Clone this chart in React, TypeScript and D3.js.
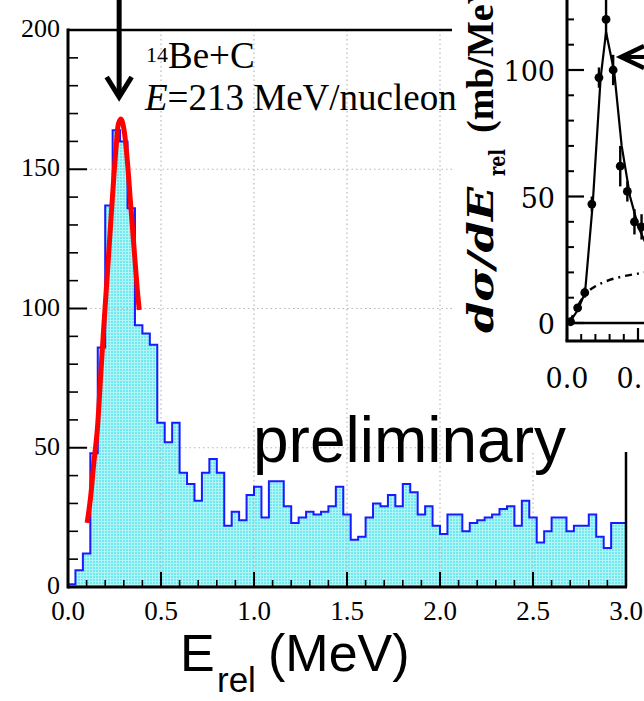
import React from "react";
import * as d3 from "d3";

const W = 644;
const H = 701;

// ---- main histogram data (bin width 0.04 MeV, 0..3 MeV) ----
const binWidth = 0.04;
const counts = [
  1, 6, 12, 48, 86, 137, 164, 160, 136, 94,
  91, 87, 59, 52, 59, 41, 37, 31, 41, 46,
  41, 22, 27, 24, 33, 36, 25, 38, 38, 29,
  23, 25, 27, 26, 27, 29, 36, 26, 17, 18,
  25, 30, 29, 33, 29, 37, 34, 26, 29, 22,
  19, 26, 26, 20, 23, 24, 25, 26, 28, 29,
  22, 31, 25, 16, 20, 25, 25, 20, 22, 22,
  26, 18, 14, 23, 23,
];

// red fit curve
const fitE = [0.103, 0.121, 0.138, 0.157, 0.174, 0.192, 0.21, 0.228, 0.246, 0.26, 0.272, 0.285, 0.299, 0.317, 0.335, 0.353, 0.371, 0.383];
const fitV = [23, 32, 44, 56, 74, 93, 111, 129, 147, 159, 166.5, 168, 165, 154.5, 139, 123.5, 108, 99.5];

const peakArrowE = 0.275;

const xTickValues = [0, 0.5, 1, 1.5, 2, 2.5, 3];
const xTickLabels = ["0.0", "0.5", "1.0", "1.5", "2.0", "2.5", "3.0"];
const yTickValues = [0, 50, 100, 150, 200];
const yTickLabels = ["0", "50", "100", "150", "200"];
const gridX = [0.5, 1, 1.5, 2, 2.5];
const gridY = [50, 100, 150];

// ---- inset data ----
const insetE = [0.025, 0.075, 0.125, 0.175, 0.225, 0.275, 0.325, 0.375, 0.425, 0.475, 0.525];
const insetV = [0.5, 6, 12, 47, 97, 120, 100, 62, 52, 40, 38];
const insetErr = [0.5, 1, 2, 3, 4, 8, 6, 8, 4, 5, 5];
const insetFitE = [0, 0.021, 0.075, 0.127, 0.181, 0.237, 0.275, 0.333, 0.385, 0.444, 0.502, 0.55];
const insetFitV = [0, 0.5, 5, 12, 47, 97, 115, 99, 70, 50, 38, 32];
const insetBgE = [0.02, 0.05, 0.1, 0.15, 0.2, 0.3, 0.4, 0.5, 0.55];
const insetBgV = [0.5, 4, 9, 12.5, 14.5, 17, 18.5, 19.5, 20];
const insetYTicks = [0, 50, 100];
const insetYLabels = ["0", "50", "100"];
const insetXTicks = [0, 0.5];
const insetXLabels = ["0.0", "0.5"];

const SERIF = "'Liberation Serif', 'Times New Roman', serif";
const SANS = "'Liberation Sans', Arial, sans-serif";

export default function App() {
  const x = d3.scaleLinear().domain([0, 3]).range([68, 626]);
  const y = d3.scaleLinear().domain([0, 200]).range([587, 30]);

  // histogram step path
  const pts: [number, number][] = [[x(0), y(0)]];
  counts.forEach((c, i) => {
    pts.push([x(i * binWidth), y(c)]);
    pts.push([x((i + 1) * binWidth), y(c)]);
  });
  pts.push([x(3), y(0)]);
  const stepLine = d3.line<[number, number]>().x((d) => d[0]).y((d) => d[1]);
  const histPath = stepLine(pts) as string;
  const fillPath = histPath + "Z";

  const fitLine = d3
    .line<number>()
    .x((_, i) => x(fitE[i]))
    .y((v) => y(v))
    .curve(d3.curveCatmullRom);
  const fitPath = fitLine(fitV) as string;

  const minorX = d3.range(0, 31).map((i) => i / 10).filter((v) => Math.round(v * 10) % 5 !== 0);
  const minorY = d3.range(0, 201, 10).filter((v) => v % 50 !== 0);

  // inset scales
  const ix = d3.scaleLinear().domain([0, 0.5]).range([567, 638]);
  const iy = d3.scaleLinear().domain([0, 100]).range([323, 70]);
  const insetLine = d3
    .line<number>()
    .x((_, i) => ix(insetFitE[i]))
    .y((v) => iy(v));
  const insetBgLine = d3
    .line<number>()
    .x((_, i) => ix(insetBgE[i]))
    .y((v) => iy(v))
    .curve(d3.curveMonotoneX);
  const insetMinorY = d3.range(0, 121, 10).filter((v) => v % 50 !== 0);
  const insetMinorX = d3.range(1, 6).map((i) => i / 10).filter((v) => v < 0.5);

  const ax = x(peakArrowE);

  return (
    <svg
      width={W}
      height={H}
      viewBox={`0 0 ${W} ${H}`}
      style={{ position: "absolute", left: 0, top: 0, background: "#fff" }}
    >
      <defs>
        <pattern id="dots" width={3} height={3} patternUnits="userSpaceOnUse">
          <rect x={0} y={0} width={3} height={3} fill="#b2f5f7" />
          <rect x={0} y={0} width={2} height={2} fill="#6fe9ef" />
        </pattern>
      </defs>
      <rect x={0} y={0} width={W} height={H} fill="#fff" />
      {/* histogram fill */}
      <path d={fillPath} fill="url(#dots)" stroke="none" />
      {/* grid */}
      {gridX.map((g) => (
        <line key={"gx" + g} x1={x(g)} x2={x(g)} y1={y(200)} y2={y(0)} stroke="#b8b8b8" strokeWidth={1.2} strokeDasharray="1.5,3" />
      ))}
      {gridY.map((g) => (
        <line key={"gy" + g} x1={x(0)} x2={x(3)} y1={y(g)} y2={y(g)} stroke="#b8b8b8" strokeWidth={1.2} strokeDasharray="1.5,3" />
      ))}
      {/* histogram outline */}
      <path d={histPath} fill="none" stroke="#1a1aff" strokeWidth={2} />
      {/* red fit */}
      <path d={fitPath} fill="none" stroke="#ff0000" strokeWidth={5} strokeLinejoin="round" />

      {/* axes */}
      <line x1={x(0)} x2={x(0)} y1={y(200) - 1.5} y2={y(0) + 1.5} stroke="#000" strokeWidth={3} />
      <line x1={x(0)} x2={x(3) + 1} y1={y(0)} y2={y(0)} stroke="#000" strokeWidth={3} />
      <line x1={x(0)} x2={452} y1={y(200)} y2={y(200)} stroke="#000" strokeWidth={2.5} />
      <line x1={x(3)} x2={x(3)} y1={452} y2={y(0)} stroke="#000" strokeWidth={2.5} />
      {xTickValues.map((v) => (
        <line key={"xt" + v} x1={x(v)} x2={x(v)} y1={y(0)} y2={y(0) - 15} stroke="#000" strokeWidth={2} />
      ))}
      {minorX.map((v) => (
        <line key={"xm" + v} x1={x(v)} x2={x(v)} y1={y(0)} y2={y(0) - 7} stroke="#000" strokeWidth={1.6} />
      ))}
      {yTickValues.map((v) => (
        <line key={"yt" + v} x1={x(0)} x2={x(0) + 19} y1={y(v)} y2={y(v)} stroke="#000" strokeWidth={2} />
      ))}
      {minorY.map((v) => (
        <line key={"ym" + v} x1={x(0)} x2={x(0) + 10} y1={y(v)} y2={y(v)} stroke="#000" strokeWidth={1.6} />
      ))}
      {xTickValues.map((v, i) => (
        <text key={"xl" + v} x={x(v)} y={620} textAnchor="middle" fontFamily={SERIF} fontSize={27} fill="#000">
          {xTickLabels[i]}
        </text>
      ))}
      {yTickValues.map((v, i) => (
        <text key={"yl" + v} x={60} y={y(v) + 7} textAnchor="end" fontFamily={SERIF} fontSize={26} fill="#000">
          {yTickLabels[i]}
        </text>
      ))}

      {/* arrow at peak */}
      <line x1={ax} x2={ax} y1={0} y2={96} stroke="#000" strokeWidth={5} />
      <polyline points={`${ax - 12.5},77 ${ax},97 ${ax + 12.5},77`} fill="none" stroke="#000" strokeWidth={5} strokeLinejoin="miter" />

      {/* ---------- inset ---------- */}
      <rect x={452} y={0} width={W - 452} height={452} fill="#fff" />
      <g>
        <path d={insetBgLine(insetBgV) as string} fill="none" stroke="#000" strokeWidth={2.4} strokeDasharray="7,5,2,5" />
        <path d={insetLine(insetFitV) as string} fill="none" stroke="#000" strokeWidth={2.2} />
        {insetE.map((e, i) => (
          <g key={"ip" + i}>
            <line x1={ix(e)} x2={ix(e)} y1={iy(insetV[i] - insetErr[i])} y2={iy(insetV[i] + insetErr[i])} stroke="#000" strokeWidth={2.4} />
            <circle cx={ix(e)} cy={iy(insetV[i])} r={4.4} fill="#000" />
          </g>
        ))}
        <line x1={567} x2={W} y1={iy(0)} y2={iy(0)} stroke="#000" strokeWidth={2.4} />
        <line x1={567} x2={567} y1={0} y2={341} stroke="#000" strokeWidth={3} />
        <line x1={565.5} x2={W} y1={341} y2={341} stroke="#000" strokeWidth={3} />
        {insetYTicks.map((v) => (
          <line key={"iyt" + v} x1={567} x2={584} y1={iy(v)} y2={iy(v)} stroke="#000" strokeWidth={2.2} />
        ))}
        {insetMinorY.map((v) => (
          <line key={"iym" + v} x1={567} x2={574} y1={iy(v)} y2={iy(v)} stroke="#000" strokeWidth={2} />
        ))}
        {insetMinorX.map((v) => (
          <line key={"ixm" + v} x1={ix(v)} x2={ix(v)} y1={341} y2={334} stroke="#000" strokeWidth={2} />
        ))}
        {insetXTicks.map((v) => (
          <line key={"ixt" + v} x1={ix(v)} x2={ix(v)} y1={341} y2={328} stroke="#000" strokeWidth={2.2} />
        ))}
        {insetYTicks.map((v, i) => (
          <text key={"iyl" + v} x={555} y={iy(v) + 11} textAnchor="end" fontFamily="'DejaVu Serif', serif" fontSize={27} fill="#000">
            {insetYLabels[i]}
          </text>
        ))}
        {insetXTicks.map((v, i) => (
          <text key={"ixl" + v} x={ix(v)} y={388} textAnchor="middle" fontFamily="'DejaVu Serif', serif" fontSize={27} fill="#000">
            {insetXLabels[i]}
          </text>
        ))}
        {/* inset arrow */}
        <line x1={621} x2={W} y1={57} y2={57} stroke="#000" strokeWidth={4} />
        <polyline points={`${W},46 621,57 ${W},68`} fill="none" stroke="#000" strokeWidth={4.5} />
        {/* inset y label */}
        <g transform="translate(493,333) rotate(-90)">
          <text x={0} y={0} fontFamily="'DejaVu Serif', serif" fontWeight="bold" fontStyle="italic" fontSize={36} textLength={146} lengthAdjust="spacingAndGlyphs" fill="#000">
            dσ/dE
          </text>
          <text x={157} y={12} fontFamily="'DejaVu Serif', serif" fontWeight="bold" fontSize={22} textLength={27} lengthAdjust="spacingAndGlyphs" fill="#000">
            rel
          </text>
          <text x={200} y={0} fontFamily={SERIF} fontWeight="bold" fontSize={38} fill="#000">
            (mb/MeV)
          </text>
        </g>
      </g>

      {/* labels */}
      <text x={146} y={68} fontFamily={SERIF} fontSize={37} fill="#000">
        <tspan fontSize={22} dy={-6}>14</tspan>
        <tspan dy={6}>Be+C</tspan>
      </text>
      <text x={145} y={110} fontFamily={SERIF} fontSize={37} fill="#000">
        <tspan fontStyle="italic">E</tspan>=213 MeV/nucleon
      </text>
      <text x={253} y={462} fontFamily={SANS} fontSize={64} fill="#000">
        preliminary
      </text>
      <text x={180} y={671} fontFamily={SANS} fontSize={52} fill="#000">
        E
      </text>
      <text x={217} y={692} fontFamily={SANS} fontSize={35} fill="#000">
        rel
      </text>
      <text x={268} y={671} fontFamily={SANS} fontSize={52} fill="#000">
        (MeV)
      </text>
    </svg>
  );
}
